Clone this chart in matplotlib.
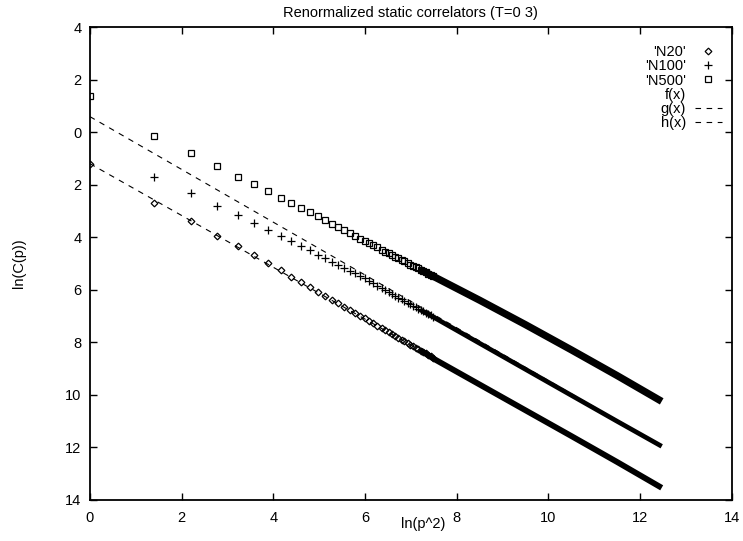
import numpy as np
import matplotlib
matplotlib.use("Agg")
import matplotlib.pyplot as plt
from matplotlib.lines import Line2D
from matplotlib.ticker import FuncFormatter

plt.rcParams['font.family'] = ['Liberation Sans', 'DejaVu Sans']

# ln(p^2) positions of the separated points
x_early = [0.00, 1.39, 2.20, 2.77, 3.22, 3.58, 3.89, 4.16, 4.39, 4.61,
           4.80, 4.97, 5.13, 5.28, 5.42, 5.55, 5.67, 5.78, 5.89, 5.99]
n500_early = [1.38, -0.13, -0.78, -1.30, -1.69, -1.99, -2.25, -2.49, -2.70, -2.88,
              -3.05, -3.20, -3.34, -3.48, -3.61, -3.73, -3.84, -3.95, -4.05, -4.14]
n100_early = [np.nan, -1.69, -2.32, -2.83, -3.16, -3.46, -3.72, -3.96, -4.16, -4.33,
              -4.50, -4.66, -4.80, -4.93, -5.05, -5.17, -5.28, -5.38, -5.48, -5.57]
n20_early = [-1.21, -2.68, -3.40, -3.95, -4.35, -4.69, -5.00, -5.26, -5.51, -5.72,
             -5.90, -6.07, -6.23, -6.38, -6.52, -6.65, -6.77, -6.88, -6.99, -7.09]

# overlapping markers before the band turns solid
x_mid = [6.09, 6.18, 6.27, 6.36, 6.44, 6.52, 6.59, 6.66, 6.73, 6.80, 6.86,
         6.93, 6.99, 7.05, 7.11, 7.16, 7.22, 7.27, 7.32, 7.38, 7.43, 7.48]
n500_mid = [-4.23, -4.31, -4.39, -4.47, -4.55, -4.62, -4.68, -4.74, -4.81, -4.87, -4.92,
            -4.99, -5.04, -5.09, -5.15, -5.19, -5.25, -5.29, -5.34, -5.39, -5.44, -5.48]
n100_mid = [-5.67, -5.76, -5.84, -5.93, -6.01, -6.09, -6.16, -6.23, -6.30, -6.36, -6.42,
            -6.49, -6.55, -6.61, -6.67, -6.72, -6.78, -6.82, -6.87, -6.93, -6.98, -7.03]
n20_mid = [-7.19, -7.28, -7.37, -7.46, -7.54, -7.62, -7.69, -7.76, -7.83, -7.90, -7.96,
           -8.03, -8.09, -8.15, -8.21, -8.26, -8.32, -8.37, -8.42, -8.48, -8.53, -8.58]

# dense part: points merge into a solid band
x_tail = [7.2, 7.5, 8.5, 9.5, 10.5, 11.5, 12.47]
n500_tail = [-5.23, -5.50, -6.40, -7.33, -8.29, -9.27, -10.25]
n100_tail = [-6.76, -7.05, -8.04, -9.03, -10.02, -11.01, -11.96]
n20_tail = [-8.30, -8.63, -9.61, -10.59, -11.57, -12.56, -13.54]

# fitted lines g(x), h(x)
fit_x = [0.0, 12.47]
g_y = [0.59, -11.94]
h_y = [-1.20, -13.50]

y_ticks = list(range(-14, 5, 2))
x_ticks = list(range(0, 15, 2))

fig = plt.figure(figsize=(7.43, 5.41), dpi=100)
ax = fig.add_axes([0.121, 0.076, 0.864, 0.874])

dash = (0, (5, 5))
ax.plot(fit_x, g_y, color='black', lw=0.8, linestyle=dash)
ax.plot(fit_x, h_y, color='black', lw=0.8, linestyle=dash)

diamond = dict(linestyle='none', marker='D', ms=3.4, mfc='none', mec='black', mew=0.9)
plus = dict(linestyle='none', marker='+', ms=5.5, color='black', mew=0.9)
square = dict(linestyle='none', marker='s', ms=5, mfc='none', mec='black', mew=0.9)

ax.plot(x_early + x_mid, n20_early + n20_mid, **diamond)
ax.plot(x_early + x_mid, n100_early + n100_mid, **plus)
ax.plot(x_early + x_mid, n500_early + n500_mid, **square)

ax.plot(x_tail, n20_tail, color='black', lw=4.2, solid_capstyle='butt')
ax.plot(x_tail, n100_tail, color='black', lw=3.4, solid_capstyle='butt')
ax.plot(x_tail, n500_tail, color='black', lw=5.2, solid_capstyle='butt')

ax.set_xlim(0, 14)
ax.set_ylim(-14, 4)
ax.set_xticks(x_ticks)
ax.set_yticks(y_ticks)
# the scan shows tick labels without minus signs
ax.yaxis.set_major_formatter(FuncFormatter(lambda v, p: f"{abs(v):g}"))
ax.tick_params(direction='in', length=5, width=1.0, top=True, right=True,
               labelsize=10.5, pad=6)
ax.tick_params(axis='x', pad=8)
for s in ax.spines.values():
    s.set_linewidth(1.3)

ax.set_title("Renormalized static correlators (T=0 3)", fontsize=10.5, pad=7)
ax.set_xlabel("ln(p^2)", fontsize=10.5)
ax.xaxis.set_label_coords(0.519, -0.036)
ax.set_ylabel("ln(C(p))", fontsize=10.5, labelpad=28)

handles = [
    Line2D([], [], **diamond),
    Line2D([], [], **plus),
    Line2D([], [], **square),
    Line2D([], [], linestyle='none'),
    Line2D([], [], color='black', lw=0.8, linestyle=dash),
    Line2D([], [], color='black', lw=0.8, linestyle=dash),
]
labels = ["'N20'", "'N100'", "'N500'", "f(x)", "g(x)", "h(x)"]
ax.legend(handles, labels, loc='upper right', bbox_to_anchor=(0.985, 0.962),
          frameon=False, markerfirst=False, fontsize=10.5, handlelength=1.9,
          handletextpad=0.6, labelspacing=0.02, borderpad=0, borderaxespad=0)

fig.savefig("out.png", dpi=100)
